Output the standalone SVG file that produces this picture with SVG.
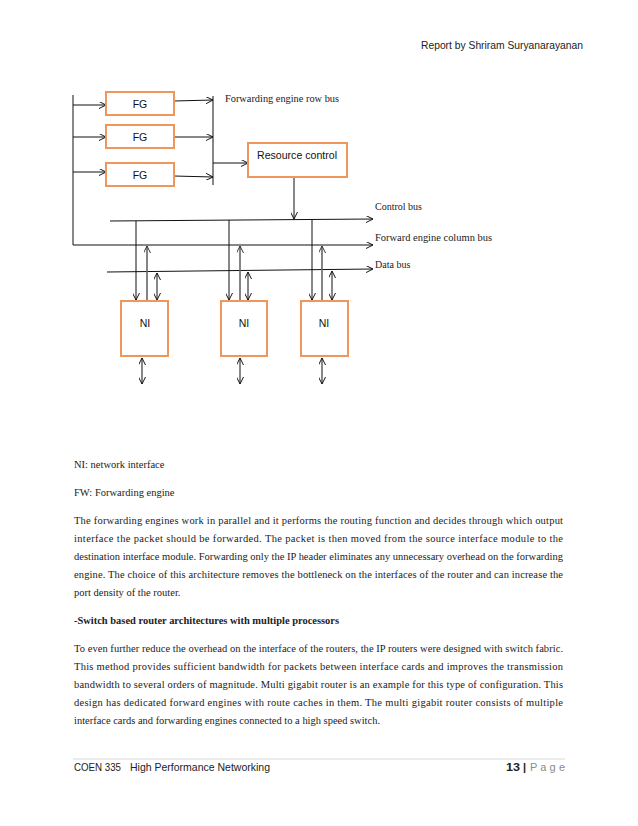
<svg xmlns="http://www.w3.org/2000/svg" width="638" height="826" viewBox="0 0 638 826">
<style>
.bg{fill:#ffffff}
.box{fill:#ffffff;stroke:#F0965A;stroke-width:2}
.ln{fill:none;stroke:#111;stroke-width:1}
.up{fill:none;stroke:#666;stroke-width:1.6}
.lbl{font-family:"Liberation Serif","Times New Roman",serif;font-size:10px;fill:#222}
.sans{font-family:"Liberation Sans",Arial,sans-serif;font-size:10.5px;fill:#111}
.body{font-family:"Liberation Serif","Times New Roman",serif;font-size:10.5px;fill:#222}
.bold{font-weight:bold}
.hdr{font-family:"Liberation Sans",Arial,sans-serif;font-size:11px;fill:#222}
</style>
<defs>
<marker id="ah" viewBox="0 0 10 10" refX="10" refY="5" markerWidth="7" markerHeight="7" markerUnits="userSpaceOnUse" orient="auto-start-reverse">
<path d="M0,0 L10,5 L0,10" fill="none" stroke="#111" stroke-width="1.4"/>
</marker>
<marker id="ahg" viewBox="0 0 10 10" refX="10" refY="5" markerWidth="7" markerHeight="7" markerUnits="userSpaceOnUse" orient="auto-start-reverse">
<path d="M0,0 L10,5 L0,10" fill="none" stroke="#333" stroke-width="1.4"/>
</marker>
</defs>
<rect class="bg" x="0" y="0" width="638" height="826"/>

<text class="hdr" x="421" y="49" textLength="162" lengthAdjust="spacingAndGlyphs">Report by Shriram Suryanarayanan</text>

<g id="connectors">
<polyline class="ln" points="73,95 73,245 373,245" marker-end="url(#ah)"/>
<line class="ln" x1="73" y1="105" x2="106" y2="105" marker-end="url(#ah)"/>
<line class="ln" x1="73" y1="137" x2="106" y2="137" marker-end="url(#ah)"/>
<line class="ln" x1="73" y1="172" x2="106" y2="172" marker-end="url(#ah)"/>
<line class="ln" x1="174" y1="101" x2="213" y2="100" marker-end="url(#ah)"/>
<line class="ln" x1="174" y1="137" x2="213" y2="137" marker-end="url(#ah)"/>
<line class="ln" x1="174" y1="176" x2="213" y2="177" marker-end="url(#ah)"/>
<line class="ln" x1="213" y1="96" x2="213" y2="185"/>
<line class="ln" x1="213" y1="163" x2="248" y2="163" marker-end="url(#ah)"/>
<line class="ln" x1="294" y1="177" x2="294" y2="219" marker-end="url(#ah)"/>
<line class="ln" x1="110" y1="221" x2="373" y2="219" marker-end="url(#ah)"/>
<line class="ln" x1="107" y1="272" x2="373" y2="269" marker-end="url(#ah)"/>
<line class="ln" x1="136" y1="221" x2="136" y2="300" marker-end="url(#ah)"/>
<line class="up" x1="147" y1="300" x2="147" y2="246" marker-end="url(#ahg)"/>
<line class="ln" x1="157" y1="273" x2="157" y2="300" marker-start="url(#ah)" marker-end="url(#ah)"/>
<line class="ln" x1="229" y1="220" x2="229" y2="300" marker-end="url(#ah)"/>
<line class="up" x1="240" y1="300" x2="240" y2="246" marker-end="url(#ahg)"/>
<line class="ln" x1="248" y1="272" x2="248" y2="300" marker-start="url(#ah)" marker-end="url(#ah)"/>
<line class="ln" x1="312" y1="220" x2="312" y2="300" marker-end="url(#ah)"/>
<line class="up" x1="322" y1="300" x2="322" y2="246" marker-end="url(#ahg)"/>
<line class="ln" x1="332" y1="271" x2="332" y2="300" marker-start="url(#ah)" marker-end="url(#ah)"/>
<line class="ln" x1="142" y1="358" x2="142" y2="384" marker-start="url(#ah)" marker-end="url(#ah)"/>
<line class="ln" x1="240" y1="358" x2="240" y2="384" marker-start="url(#ah)" marker-end="url(#ah)"/>
<line class="ln" x1="322" y1="358" x2="322" y2="384" marker-start="url(#ah)" marker-end="url(#ah)"/>
</g>

<g id="fg1"><rect class="box" x="106" y="92" width="68" height="23"/><text class="sans" x="140" y="108" text-anchor="middle">FG</text></g>
<g id="fg2"><rect class="box" x="106" y="125" width="68" height="23"/><text class="sans" x="140" y="141" text-anchor="middle">FG</text></g>
<g id="fg3"><rect class="box" x="106" y="163" width="68" height="23"/><text class="sans" x="140" y="179" text-anchor="middle">FG</text></g>
<g id="resource"><rect class="box" x="248" y="143" width="99" height="34"/><text class="sans" x="297" y="159" text-anchor="middle" textLength="80" lengthAdjust="spacingAndGlyphs">Resource control</text></g>
<g id="ni1"><rect class="box" x="121" y="301" width="47" height="55"/><text class="sans" x="145" y="327" text-anchor="middle">NI</text></g>
<g id="ni2"><rect class="box" x="221" y="301" width="46" height="55"/><text class="sans" x="244" y="327" text-anchor="middle">NI</text></g>
<g id="ni3"><rect class="box" x="301" y="301" width="47" height="55"/><text class="sans" x="324" y="327" text-anchor="middle">NI</text></g>

<g id="labels">
<text class="lbl" x="225" y="102" textLength="114" lengthAdjust="spacingAndGlyphs">Forwarding engine row bus</text>
<text class="lbl" x="375" y="210">Control bus</text>
<text class="lbl" x="375" y="241" textLength="117" lengthAdjust="spacingAndGlyphs">Forward engine column bus</text>
<text class="lbl" x="375" y="268">Data bus</text>
</g>

<g id="text">
<text class="body" x="74" y="468">NI: network interface</text>
<text class="body" x="74" y="496">FW: Forwarding engine</text>
<text class="body" x="74" y="524" textLength="489">The forwarding engines work in parallel and it performs the routing function and decides through which output</text>
<text class="body" x="74" y="542" textLength="489">interface the packet should be forwarded. The packet is then moved from the source interface module to the</text>
<text class="body" x="74" y="560" textLength="489">destination interface module. Forwarding only the IP header eliminates any unnecessary overhead on the forwarding</text>
<text class="body" x="74" y="578" textLength="489">engine. The choice of this architecture removes the bottleneck on the interfaces of the router and can increase the</text>
<text class="body" x="74" y="596">port density of the router.</text>
<text class="body bold" x="74" y="624" textLength="265" lengthAdjust="spacingAndGlyphs">-Switch based router architectures with multiple processors</text>
<text class="body" x="74" y="652" textLength="489">To even further reduce the overhead on the interface of the routers, the IP routers were designed with switch fabric.</text>
<text class="body" x="74" y="670" textLength="489">This method provides sufficient bandwidth for packets between interface cards and improves the transmission</text>
<text class="body" x="74" y="688" textLength="489">bandwidth to several orders of magnitude. Multi gigabit router is an example for this type of configuration. This</text>
<text class="body" x="74" y="706" textLength="489">design has dedicated forward engines with route caches in them. The multi gigabit router consists of multiple</text>
<text class="body" x="74" y="724" textLength="306" lengthAdjust="spacingAndGlyphs">interface cards and forwarding engines connected to a high speed switch.</text>
</g>

<g id="footer">
<line x1="73" y1="759" x2="565" y2="759" stroke="#d8d8d8" stroke-width="1"/>
<text class="hdr" x="74" y="771" textLength="47" lengthAdjust="spacingAndGlyphs">COEN 335</text>
<text class="hdr" x="130" y="771" textLength="140" lengthAdjust="spacingAndGlyphs">High Performance Networking</text>
<text class="hdr bold" x="506" y="771" textLength="14" lengthAdjust="spacingAndGlyphs">13</text>
<text class="hdr bold" x="523" y="771">|</text>
<text class="hdr" x="530" y="771" textLength="35" style="fill:#8a8a8a">P a g e</text>
</g>
</svg>
